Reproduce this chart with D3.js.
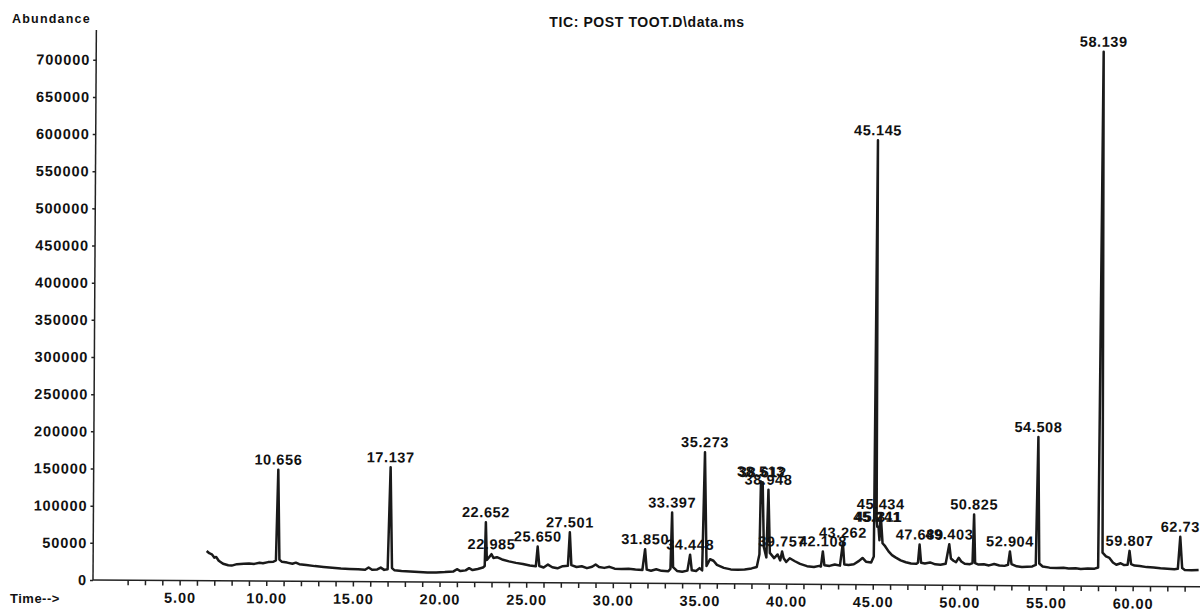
<!DOCTYPE html>
<html>
  <head>
    <title>TIC: POST TOOT.D\data.ms</title>
    <style type="text/css">
        body {
            margin: 0;
            background: #fff;
        }
        svg text {
            font-family: "Liberation Sans", Arial, sans-serif;
            font-weight: bold;
            fill: #111;
        }
        .axis path, .axis line {
            stroke: #222;
            stroke-width: 1.5;
        }
    </style>
  </head>
  <body>
    <svg width="1200" height="613"></svg>

    <script src="https://d3js.org/d3.v7.min.js"></script>
    <script>

    // Trace points (time in min, abundance)
    var times = [
        6.55, 6.7, 6.85, 7.0, 7.1, 7.25, 7.5, 7.8, 8.0, 8.3, 8.7, 9.0, 9.3, 9.6, 9.8, 10.1, 10.4, 10.55,
        10.656, 10.75, 10.9, 11.2, 11.5, 11.7, 11.9, 12.3, 12.8, 13.3, 13.8, 14.3, 14.8, 15.3, 15.7, 15.9,
        16.1, 16.4, 16.6, 16.8, 17.0, 17.137, 17.25, 17.4, 17.8, 18.3, 18.8, 19.3, 19.8, 20.3, 20.8, 21.0,
        21.2, 21.5, 21.7, 21.9, 22.2, 22.5, 22.6, 22.652, 22.72, 22.85, 22.985, 23.1, 23.3, 23.6, 24.0,
        24.4, 24.8, 25.2, 25.55, 25.650, 25.75, 26.0, 26.25, 26.5, 26.8, 27.1, 27.4, 27.501, 27.6, 27.9,
        28.2, 28.5, 28.8, 29.0, 29.2, 29.5, 29.8, 30.1, 30.5, 30.9, 31.3, 31.7, 31.850, 31.95, 32.2, 32.5,
        32.8, 33.2, 33.32, 33.397, 33.47, 33.7, 34.0, 34.3, 34.448, 34.55, 34.8, 35.0, 35.15, 35.273, 35.4,
        35.6, 35.8, 36.0, 36.4, 36.8, 37.2, 37.6, 38.0, 38.3, 38.45, 38.513, 38.56, 38.612, 38.7, 38.85,
        38.948, 39.05, 39.3, 39.5, 39.65, 39.757, 39.85, 40.0, 40.2, 40.5, 40.8, 41.2, 41.6, 41.9, 42.0,
        42.108, 42.2, 42.5, 42.8, 43.1, 43.262, 43.35, 43.6, 43.9, 44.2, 44.4, 44.6, 44.9, 45.05, 45.145,
        45.2, 45.241, 45.311, 45.37, 45.434, 45.55, 45.7, 45.9, 46.1, 46.3, 46.6, 46.9, 47.2, 47.5, 47.6,
        47.689, 47.78, 48.0, 48.3, 48.6, 48.9, 49.2, 49.403, 49.5, 49.65, 49.8, 49.95, 50.1, 50.3, 50.6,
        50.75, 50.825, 50.9, 51.1, 51.4, 51.7, 52.0, 52.3, 52.6, 52.8, 52.904, 53.0, 53.3, 53.6, 53.9,
        54.2, 54.4, 54.508, 54.6, 54.8, 55.2, 55.6, 56.0, 56.3, 56.7, 57.0, 57.4, 57.8, 58.0, 58.139,
        58.25, 58.45, 58.65, 58.85, 59.05, 59.3, 59.5, 59.7, 59.807, 59.9, 60.1, 60.4, 60.8, 61.2, 61.6,
        62.0, 62.4, 62.6, 62.73, 62.85, 63.0, 63.4, 63.8
    ];

    var abundance = [
        40000, 37000, 35500, 31000, 32000, 27000, 23000, 21000, 20500, 22500, 23000, 23500, 23000, 24500, 24000, 25500, 26000, 28000,
        150000, 29000, 26000, 25000, 23500, 25000, 23000, 22000, 20500, 19500, 18500, 17500, 17000, 16500, 16000, 19000,
        16000, 16500, 19000, 16000, 17000, 154000, 18500, 15500, 14500, 14000, 13500, 13000, 13000, 13500, 14500, 17500,
        15000, 16000, 19000, 16500, 18000, 20000, 22000, 81000, 30000, 34000, 38000, 33000, 34000, 31000, 28500,
        26500, 25000, 23000, 22000, 48700, 22500, 20500, 24500, 21000, 19500, 22500, 23000, 68000, 24000, 21500,
        22500, 20000, 22000, 25000, 21500, 20500, 22000, 19500, 19000, 19500, 18500, 18000, 46000, 18500, 17000, 19000,
        17000, 16500, 20000, 95500, 22000, 17000, 16000, 17500, 39000, 18000, 17000, 21000, 18000, 177000, 24000,
        33000, 31000, 25500, 21500, 19500, 19000, 19500, 21000, 23000, 40000, 138000, 110000, 137000, 50000, 36000,
        127000, 42000, 35000, 40000, 32000, 44000, 35000, 30000, 35000, 31000, 27500, 24500, 23500, 25000, 24000,
        44500, 26000, 25000, 27000, 25500, 56500, 27000, 26500, 27500, 32000, 36000, 31000, 30000, 38000, 598000,
        90000, 78000, 78000, 60000, 95000, 56000, 52000, 45000, 40000, 37000, 33000, 30500, 29000, 28500, 30000,
        54500, 30000, 29000, 30500, 28000, 27500, 29000, 55000, 36000, 33000, 31000, 37000, 32000, 29000, 28500,
        30000, 95500, 30000, 28000, 28500, 27000, 29000, 27000, 26500, 28000, 46000, 29000, 26000, 25000, 25500,
        26000, 28000, 200000, 30000, 26000, 24500, 24000, 24500, 23500, 24000, 23000, 23500, 23500, 25000, 719000,
        45000, 40000, 38000, 32000, 29000, 31000, 28500, 29000, 47700, 30000, 28000, 27500, 26000, 25500, 24500,
        24000, 23500, 24000, 67000, 25000, 22500, 22000, 22500
    ];

    // Peaks that carry a retention time label
    var peakLabels = ["10.656", "17.137", "22.652", "22.985", "25.650", "27.501", "31.850", "33.397",
        "34.448", "35.273", "38.513", "38.612", "38.948", "39.757", "42.108", "43.262", "45.145",
        "45.241", "45.311", "45.434", "47.689", "49.403", "50.825", "52.904", "54.508", "58.139",
        "59.807", "62.73"];

    var yTicks = [0, 50000, 100000, 150000, 200000, 250000, 300000, 350000, 400000, 450000,
        500000, 550000, 600000, 650000, 700000];
    var xTicks = d3.range(2, 64);

    var svg = d3.select("svg");

    var x = d3.scaleLinear()
        .domain([0, 64])
        .range([93, 1202]);

    var y = d3.scaleLinear()
        .domain([0, 740000])
        .range([580, 30]);

    // the scanned page is tilted a little
    var g = svg.append("g")
        .attr("transform", "rotate(0.35, 93, 580)");

    svg.append("text")
        .attr("x", 647)
        .attr("y", 27)
        .attr("text-anchor", "middle")
        .style("font-size", "14px")
        .style("letter-spacing", "0.6px")
        .text("TIC: POST TOOT.D\\data.ms");

    svg.append("text")
        .attr("x", 12)
        .attr("y", 23)
        .style("font-size", "12.5px")
        .style("letter-spacing", "1.2px")
        .text("Abundance");

    svg.append("text")
        .attr("x", 10)
        .attr("y", 603)
        .style("font-size", "13px")
        .style("letter-spacing", "0.5px")
        .text("Time-->");

    // Axes
    var yAxis = g.append("g")
        .attr("class", "axis")
        .attr("transform", "translate(" + x(0) + ",0)")
        .call(d3.axisLeft(y)
            .tickValues(yTicks)
            .tickSize(3)
            .tickPadding(3)
            .tickFormat(d3.format("d")));
    yAxis.select(".domain").attr("d", "M0," + y(0) + "V30");

    var xAxis = g.append("g")
        .attr("class", "axis")
        .attr("transform", "translate(0," + y(0) + ")")
        .call(d3.axisBottom(x)
            .tickValues(xTicks)
            .tickSize(5)
            .tickPadding(7)
            .tickFormat(function(d) { return d % 5 == 0 ? d3.format(".2f")(d) : ""; }));
    xAxis.select(".domain").attr("d", "M" + x(0) + ",0H1200");

    g.selectAll(".axis text")
        .style("font-size", "14.5px")
        .style("letter-spacing", "0.9px");

    // Chromatogram trace
    var points = times.map(function(t, i) { return [t, abundance[i]]; });

    var line = d3.line()
        .x(function(d) { return x(d[0]); })
        .y(function(d) { return y(d[1]); });

    g.append("path")
        .datum(points)
        .attr("fill", "none")
        .attr("stroke", "#1a1a1a")
        .attr("stroke-width", 2.5)
        .attr("stroke-linejoin", "round")
        .attr("d", line);

    // Retention time labels just above each apex
    g.append("g").selectAll("text")
        .data(peakLabels)
        .enter().append("text")
        .attr("x", function(d) { return x(+d); })
        .attr("y", function(d) {
            var i = times.indexOf(+d);
            return y(abundance[i]) - 5;
        })
        .attr("text-anchor", "middle")
        .style("font-size", "14.5px")
        .style("letter-spacing", "0.6px")
        .text(function(d) { return d; });

    </script>
  </body>
</html>
